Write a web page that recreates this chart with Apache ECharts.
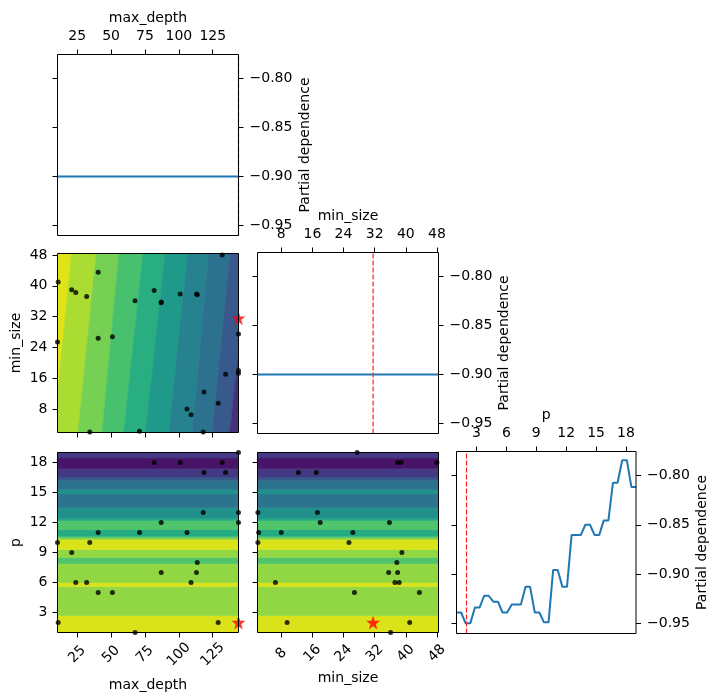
<!DOCTYPE html>
<html>
<head>
<meta charset="utf-8">
<script src="https://cdn.jsdelivr.net/npm/echarts@6/dist/echarts.min.js"></script>
<style>
  html, body { margin: 0; padding: 0; background: #fff; }
  #chart { width: 710px; height: 695px; }
</style>
</head>
<body>
<div id="chart"></div>
<script>
// search space bounds and tick labels
const maxDepthRange = [10.5, 144]
const minSizeRange = [1.9, 48.4]
const pRange = [1, 19]
const pdRange = [-0.9603, -0.7757]
const maxDepthTicks = [25, 50, 75, 100, 125]
const minSizeTicks = [8, 16, 24, 32, 40, 48]
const pTicks = [3, 6, 9, 12, 15, 18]
const pdTicks = [-0.95, -0.9, -0.85, -0.8]

// evaluated points
const sampleMaxDepth = [11, 21, 24, 32, 40.5, 10.5, 40.5, 51, 67.7, 81.8, 87, 87, 101, 113, 113.6, 132, 144, 144, 144, 134.5, 118.5, 129, 106, 109, 34.3, 71, 118]
const sampleMinSize = [41, 39, 38.3, 37.2, 43.5, 25.4, 26.4, 26.8, 36.1, 38.8, 35.8, 35.6, 37.9, 37.9, 37.7, 48, 27.5, 17.3, 18, 17, 12.4, 9.5, 8, 6.5, 2, 2.2, 2]
const sampleP = [2, 9, 6, 6, 5, 10, 11, 5, 1, 18, 12, 7, 18, 7, 8, 18, 19, 13, 12, 17, 17, 2, 11, 6, 10, 11, 13]
const bestMaxDepth = 144
const bestMinSize = 31.6
const bestP = 2

// 1-D partial dependence curves
const maxDepthCurveX = [10.5, 144]
const maxDepthCurveY = [-0.9, -0.9]
const minSizeCurveX = [1.9, 48.4]
const minSizeCurveY = [-0.9, -0.9]
const pCurveX = [1.00, 1.46, 1.92, 2.38, 2.85, 3.31, 3.77, 4.23, 4.69, 5.15, 5.62, 6.08, 6.54, 7.00, 7.46, 7.92, 8.38, 8.85, 9.31, 9.77,
  10.23, 10.69, 11.15, 11.62, 12.08, 12.54, 13.00, 13.46, 13.92, 14.38, 14.85, 15.31, 15.77, 16.23, 16.69, 17.15, 17.62, 18.08, 18.54, 19.00]
const pCurveY = [-0.939, -0.939, -0.950, -0.950, -0.934, -0.934, -0.922, -0.922, -0.928, -0.928, -0.939, -0.939, -0.931, -0.931, -0.931,
  -0.913, -0.913, -0.939, -0.939, -0.949, -0.949, -0.896, -0.896, -0.913, -0.913, -0.8605, -0.8605, -0.8605, -0.850, -0.850,
  -0.8605, -0.8605, -0.8456, -0.8456, -0.8074, -0.8074, -0.7845, -0.7845, -0.8118, -0.8118]

// contour lines of max_depth x min_size (max_depth where each line meets min_size = 2 and min_size = 48)
const mdMsLineAtMs2 = [7.7, 25.7, 43.5, 59.4, 75.5, 92.7, 109.9, 124.8, 137.6]
const mdMsLineAtMs48 = [20.8, 39.0, 55.7, 73.5, 89.7, 106.3, 121.8, 137.6, 151.6]
// p contour bands (edges along p and the level of each band)
const pBandEdges = [1, 2.7, 5.6, 6.0, 7.9, 8.5, 9.3, 10.3, 10.47, 10.63, 11.3, 12.2, 12.4, 13.5, 14.85, 15.3, 16.2, 16.55, 17.4, 18.45, 19]
const pBandLevel = [0, 1, 0, 1, 2, 1, 0, 1, 2, 3, 2, 3, 4, 5, 4, 5, 6, 7, 8, 7]

const mdMsColors = ['#dfe318', '#aadc32', '#75d054', '#48c16e', '#28ae80', '#1f9a8a', '#26828e', '#2c728e', '#37598c', '#46307e']
const pColors = ['#dae319', '#90d743', '#4fc46a', '#25ab82', '#21918c', '#2c738e', '#38598c', '#443983', '#481467']

const font = { fontFamily: 'DejaVu Sans', fontSize: 14, color: '#000' }
const starPath = 'path://M50 2 L61.8 38.2 L99.5 38.2 L69 60.6 L80.6 96.8 L50 74.4 L19.4 96.8 L31 60.6 L0.5 38.2 L38.2 38.2 Z'

const chart = echarts.init(document.getElementById('chart'), null, { renderer: 'canvas' })

function gridBox(left, top, width, height) {
  return { left, top, width, height, show: true, borderColor: '#000', borderWidth: 1, backgroundColor: 'transparent', z: 10 }
}

function axis(gridIndex, range, ticks, opts) {
  const o = opts || {}
  return {
    type: 'value',
    gridIndex,
    min: range[0],
    max: range[1],
    position: o.position,
    splitLine: { show: false },
    axisLine: { show: false },
    axisTick: { show: true, length: 5, lineStyle: { color: '#000', width: 1 }, customValues: ticks },
    axisLabel: Object.assign({
      show: !!o.labels,
      customValues: ticks,
      margin: o.margin || 10,
      rotate: o.rotate || 0,
      formatter: o.formatter
    }, font, o.rotate ? { align: 'center', verticalAlign: 'middle' } : {}),
    name: o.name || '',
    nameLocation: 'middle',
    nameGap: o.nameGap || 0,
    nameRotate: o.nameRotate,
    nameTextStyle: font,
    z: 11
  }
}

const pdFormat = v => (v < 0 ? '\u2212' : '') + Math.abs(v).toFixed(2)

function zip(a, b) {
  return a.map((v, i) => [v, b[i]])
}

function pdLine(xi, yi, xs, ys) {
  return {
    type: 'line',
    xAxisIndex: xi,
    yAxisIndex: yi,
    data: zip(xs, ys),
    showSymbol: false,
    symbol: 'none',
    lineStyle: { color: '#1f77b4', width: 2 },
    clip: true,
    z: 3
  }
}

// vertical dashed line at the best value
function bestLine(xi, yi, best) {
  return {
    type: 'line',
    xAxisIndex: xi,
    yAxisIndex: yi,
    data: [[best, pdRange[0]], [best, pdRange[1]]],
    showSymbol: false,
    symbol: 'none',
    lineStyle: { color: '#ff2020', width: 1.2, type: [5, 2] },
    clip: true,
    z: 4
  }
}

function dots(xi, yi, xs, ys) {
  return {
    type: 'scatter',
    xAxisIndex: xi,
    yAxisIndex: yi,
    data: zip(xs, ys),
    symbolSize: 5,
    itemStyle: { color: '#000' },
    clip: true,
    z: 4
  }
}

function star(xi, yi, x, y) {
  return {
    type: 'scatter',
    xAxisIndex: xi,
    yAxisIndex: yi,
    data: [[x, y]],
    symbol: starPath,
    symbolSize: 14,
    itemStyle: { color: '#ff0000' },
    clip: true,
    z: 5
  }
}

// horizontal contour bands along p
function pBands(xi, yi, xr) {
  return {
    type: 'custom',
    xAxisIndex: xi,
    yAxisIndex: yi,
    clip: true,
    silent: true,
    data: pBandLevel.map((lv, i) => [i, lv]),
    renderItem: (params, api) => {
      const i = params.dataIndex
      const c = pColors[pBandLevel[i]]
      const a = api.coord([xr[0] - 5, pBandEdges[i]])
      const b = api.coord([xr[1] + 5, pBandEdges[i + 1]])
      return {
        type: 'rect',
        shape: { x: a[0], y: b[1], width: b[0] - a[0], height: a[1] - b[1] },
        style: { fill: c, stroke: c, lineWidth: 0.6 }
      }
    },
    z: 1
  }
}

// slanted contour bands of max_depth x min_size
function lineAt(j, ms) {
  if (j < 0) return -200
  if (j >= mdMsLineAtMs2.length) return 400
  const t = (ms - 2) / 46
  return mdMsLineAtMs2[j] + t * (mdMsLineAtMs48[j] - mdMsLineAtMs2[j])
}

const mdMsContour = {
  type: 'custom',
  xAxisIndex: 1,
  yAxisIndex: 2,
  clip: true,
  silent: true,
  data: mdMsColors.map((c, i) => [i, i]),
  renderItem: (params, api) => {
    const i = params.dataIndex
    const c = mdMsColors[i]
    const lo = -10
    const hi = 60
    const pts = [[lineAt(i - 1, lo), lo], [lineAt(i, lo), lo], [lineAt(i, hi), hi], [lineAt(i - 1, hi), hi]].map(p => api.coord(p))
    return {
      type: 'polygon',
      shape: { points: pts },
      style: { fill: c, stroke: c, lineWidth: 0.6 }
    }
  },
  z: 1
}

const option = {
  animation: false,
  backgroundColor: '#fff',
  grid: [
    gridBox(57.5, 54.5, 181, 181),
    gridBox(57.5, 253.5, 181, 179),
    gridBox(257.5, 252.5, 181, 181),
    gridBox(57.5, 452.5, 181, 180),
    gridBox(257.5, 452.5, 181, 180),
    gridBox(456.5, 451.5, 181, 182)
  ],
  xAxis: [
    axis(0, maxDepthRange, maxDepthTicks, { position: 'top', labels: true, margin: 11, name: 'max_depth', nameGap: 29 }),
    axis(1, maxDepthRange, maxDepthTicks, { position: 'bottom' }),
    axis(2, minSizeRange, minSizeTicks, { position: 'top', labels: true, margin: 11, name: 'min_size', nameGap: 29 }),
    axis(3, maxDepthRange, maxDepthTicks, { position: 'bottom', labels: true, rotate: 45, margin: 22, name: 'max_depth', nameGap: 46 }),
    axis(4, minSizeRange, minSizeTicks, { position: 'bottom', labels: true, rotate: 45, margin: 21, name: 'min_size', nameGap: 39 }),
    axis(5, pRange, pTicks, { position: 'top', labels: true, margin: 11, name: 'p', nameGap: 29 })
  ],
  yAxis: [
    axis(0, pdRange, pdTicks, { position: 'right', labels: true, margin: 11, formatter: pdFormat, name: 'Partial dependence', nameGap: 60, nameRotate: 90 }),
    axis(0, pdRange, pdTicks, { position: 'left' }),
    axis(1, minSizeRange, minSizeTicks, { position: 'left', labels: true, margin: 10, name: 'min_size', nameGap: 34, nameRotate: 90 }),
    axis(2, pdRange, pdTicks, { position: 'right', labels: true, margin: 11, formatter: pdFormat, name: 'Partial dependence', nameGap: 59, nameRotate: 90 }),
    axis(2, pdRange, pdTicks, { position: 'left' }),
    axis(3, pRange, pTicks, { position: 'left', labels: true, margin: 10, name: 'p', nameGap: 34, nameRotate: 90 }),
    axis(4, pRange, pTicks, { position: 'left' }),
    axis(5, pdRange, pdTicks, { position: 'right', labels: true, margin: 11, formatter: pdFormat, name: 'Partial dependence', nameGap: 59, nameRotate: 90 }),
    axis(5, pdRange, pdTicks, { position: 'left' })
  ],
  series: [
    pdLine(0, 0, maxDepthCurveX, maxDepthCurveY),
    bestLine(0, 0, bestMaxDepth),
    mdMsContour,
    dots(1, 2, sampleMaxDepth, sampleMinSize),
    star(1, 2, bestMaxDepth, bestMinSize),
    pdLine(2, 3, minSizeCurveX, minSizeCurveY),
    bestLine(2, 3, bestMinSize),
    pBands(3, 5, maxDepthRange),
    dots(3, 5, sampleMaxDepth, sampleP),
    star(3, 5, bestMaxDepth, bestP),
    pBands(4, 6, minSizeRange),
    dots(4, 6, sampleMinSize, sampleP),
    star(4, 6, bestMinSize, bestP),
    pdLine(5, 7, pCurveX, pCurveY),
    bestLine(5, 7, bestP)
  ]
}

chart.setOption(option)
</script>
</body>
</html>
